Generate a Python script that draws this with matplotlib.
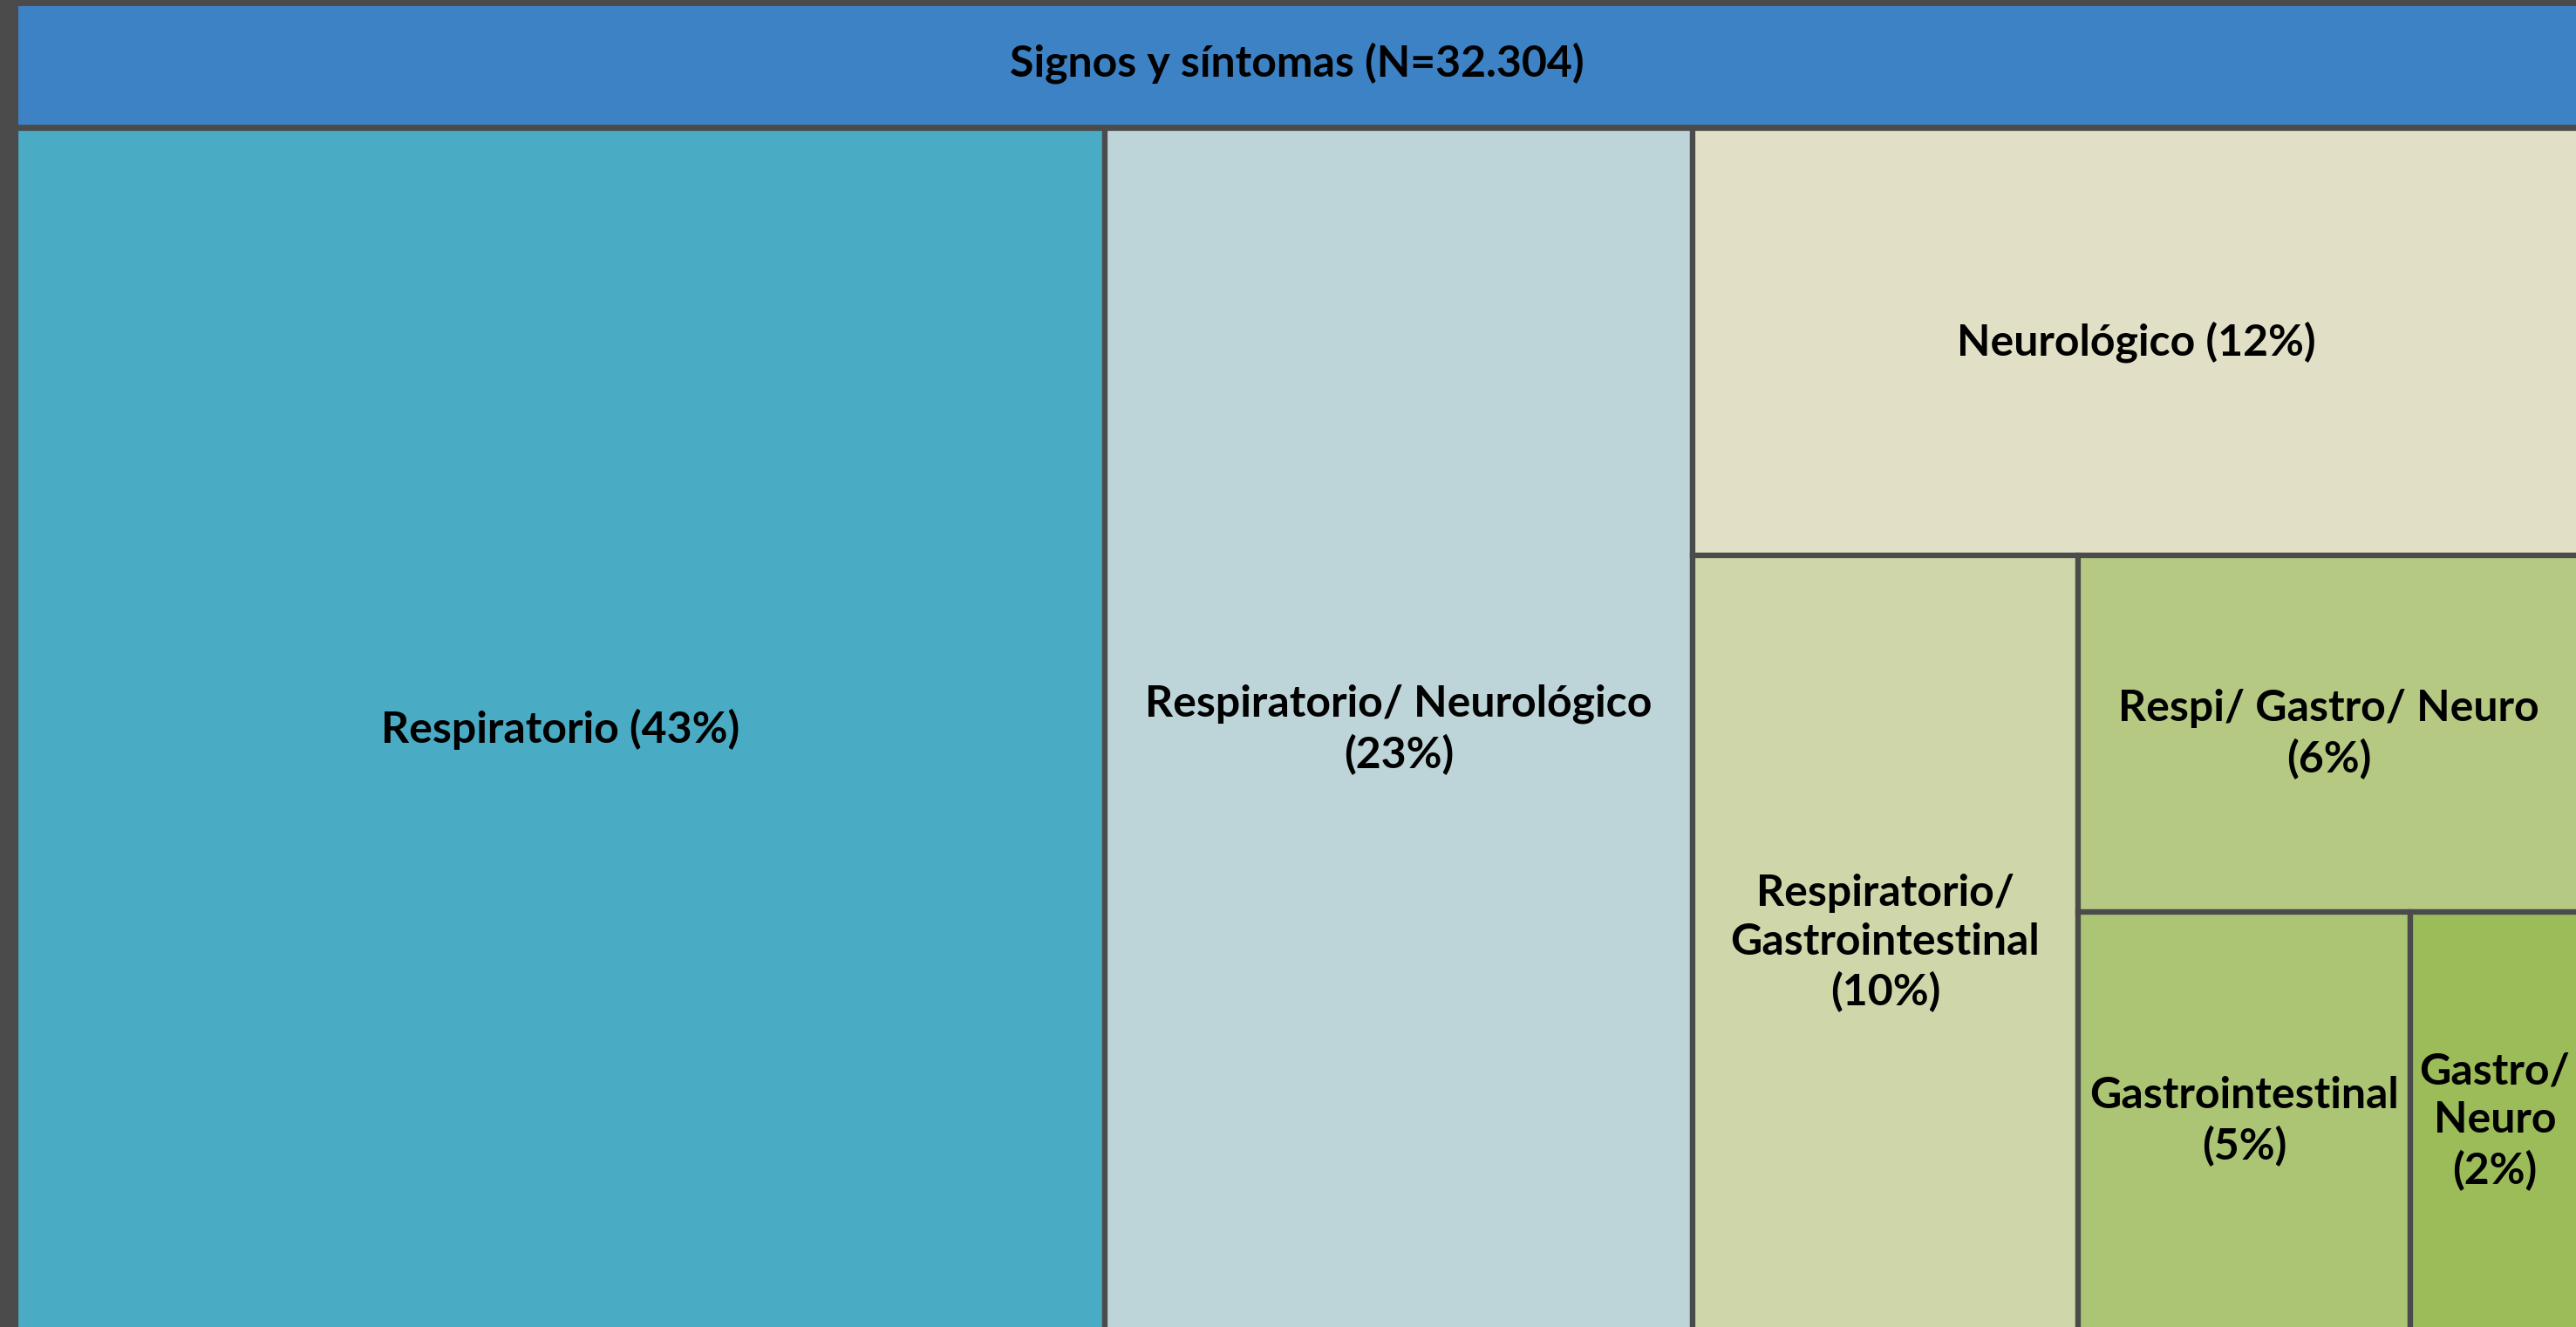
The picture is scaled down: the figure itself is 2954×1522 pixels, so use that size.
import matplotlib
matplotlib.use("Agg")
import matplotlib.pyplot as plt
from matplotlib.patches import Rectangle

# data (area shares in % and the rounded labels)
title = "Signos y síntomas (N=32.304)"
names = ["Respiratorio", "Respiratorio/ Neurológico", "Neurológico",
         "Respiratorio/\nGastrointestinal", "Respi/ Gastro/ Neuro",
         "Gastrointestinal", "Gastro/\nNeuro"]
shares = [42.5, 22.9, 12.3, 9.7, 5.8, 4.5, 2.3]
pct_labels = [43, 23, 12, 10, 6, 5, 2]
label_sep = [" ", "\n", " ", "\n", "\n", "\n", "\n"]
colors = ["#4aabc5", "#bdd5d8", "#e1e0c6", "#cfd6a9",
          "#b5c982", "#abc574", "#9cbb59"]

bg = "#4b4b4b"
title_color = "#3d82c4"


def slice_layout(vals, x, y, w, h):
    # each item takes a strip across the longer side of what is left
    rects = []
    total = float(sum(vals))
    for i, v in enumerate(vals):
        if i == len(vals) - 1:
            rects.append((x, y, w, h))
            break
        f = v / total
        if w >= h:
            rects.append((x, y, w * f, h))
            x += w * f
            w -= w * f
        else:
            rects.append((x, y, w, h * f))
            y += h * f
            h -= h * f
        total -= v
    return rects


W, H = 2954, 1522
fig = plt.figure(figsize=(W / 100, H / 100), dpi=100, facecolor=bg)

font = dict(family=["Lato", "DejaVu Sans"], weight="bold", color="black")

# title bar
tax = fig.add_axes([21 / W, (H - 143) / H, (W - 21) / W, 136 / H])
tax.set_facecolor(title_color)
tax.set_xticks([])
tax.set_yticks([])
for s in tax.spines.values():
    s.set_visible(False)
tax.text(0.5, 0.52, title, ha="center", va="center", fontsize=36, **font)

# treemap area (runs a little past the right and bottom edges, cropped)
left, top = 18, 147
aw, ah = W - left + 4, H - top + 4
ax = fig.add_axes([left / W, -4 / H, aw / W, ah / H])
ax.set_xlim(0, aw)
ax.set_ylim(ah, 0)
ax.axis("off")

for (x, y, w, h), name, p, sep, c in zip(slice_layout(shares, 0, 0, aw, ah),
                                        names, pct_labels, label_sep, colors):
    ax.add_patch(Rectangle((x, y), w, h, facecolor=c, edgecolor=bg,
                           linewidth=4.5, clip_on=False))
    ax.text(x + w / 2, y + h / 2, f"{name}{sep}({p}%)", ha="center",
            va="center", fontsize=36, linespacing=1.3, **font)

fig.savefig("out.png", dpi=100, facecolor=bg)
